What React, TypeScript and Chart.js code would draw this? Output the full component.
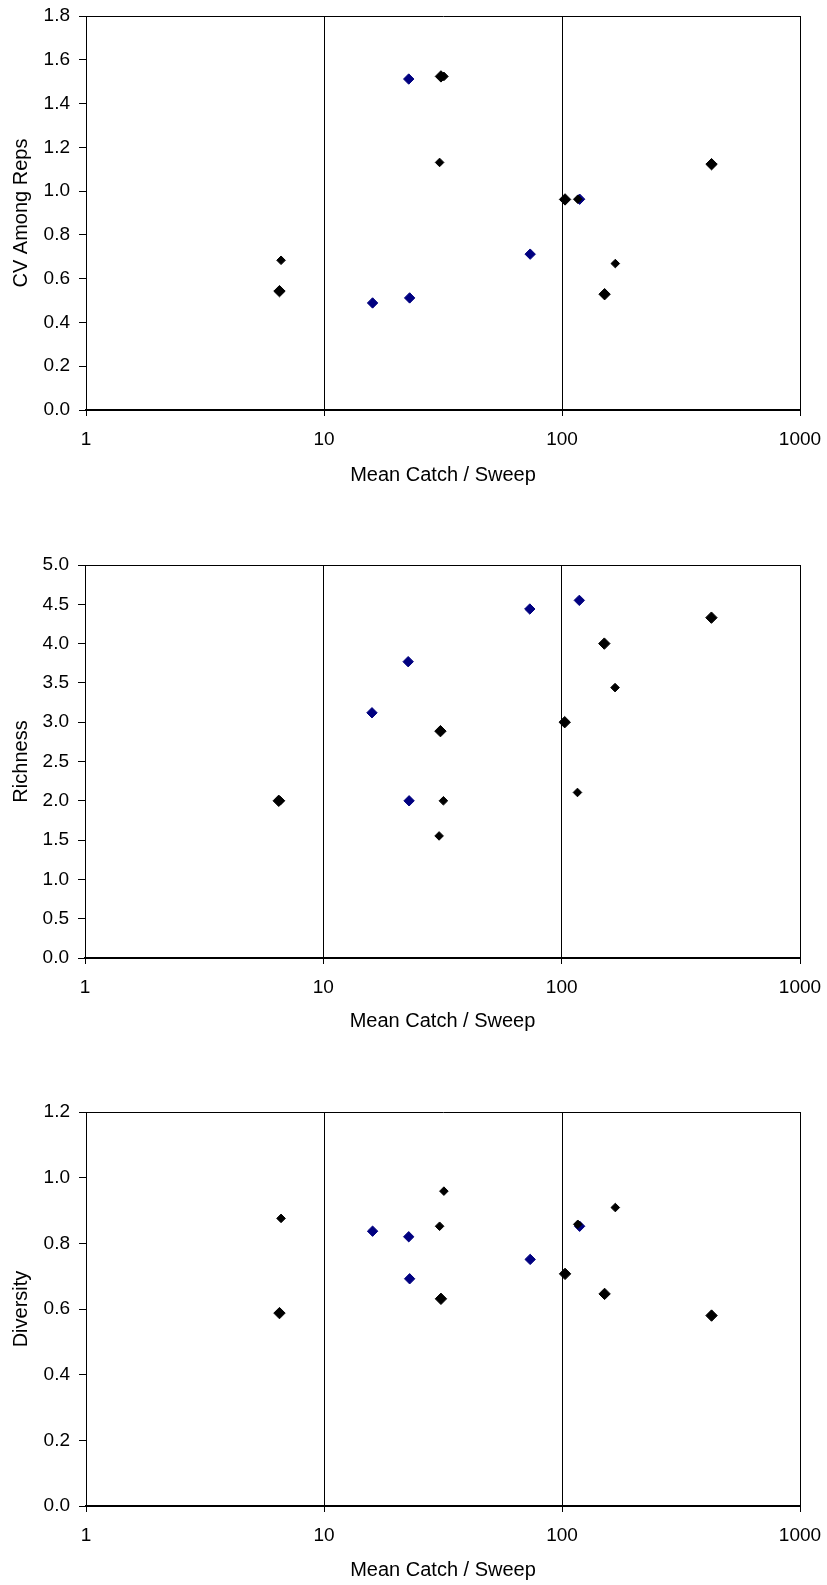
import React, { useEffect, useRef } from 'react';
import { Chart, registerables } from 'chart.js';

Chart.register(...registerables);

// ---- data ----
const xTicks = [1, 10, 100, 1000];
const xAxisTitle = 'Mean Catch / Sweep';

const blackLargeCatch = [6.5, 31.0, 103, 151, 425];
const blackSmallCatch = [6.6, 30.6, 31.9, 116.5, 167.5];
const navyCatch = [16.0, 22.7, 22.9, 73.5, 118.6];

const blackLargeCV = [0.543, 1.524, 0.962, 0.529, 1.123];
const blackSmallCV = [0.684, 1.131, 1.524, 0.963, 0.669];
const navyCV = [0.489, 1.512, 0.512, 0.712, 0.963];

const blackLargeRichness = [2.0, 2.886, 3.0, 4.0, 4.33];
const blackSmallRichness = [2.0, 1.553, 2.0, 2.106, 3.44];
const navyRichness = [3.12, 3.77, 2.0, 4.44, 4.55];

const blackLargeDiversity = [0.5875, 0.631, 0.707, 0.646, 0.58];
const blackSmallDiversity = [0.876, 0.852, 0.959, 0.858, 0.909];
const navyDiversity = [0.837, 0.82, 0.692, 0.751, 0.852];

const FONT = "'Liberation Sans', Arial, Helvetica, sans-serif";

type PanelCfg = {
  yTitle: string;
  yMax: number;
  yStep: number;
  large: number[];
  small: number[];
  navy: number[];
  top: number;
  height: number;
  padTop: number;
  plotLeft: number;
  xHeight: number;
  titlePadBottom: number;
};

const panels: PanelCfg[] = [
  {
    yTitle: 'CV Among Reps', yMax: 1.8, yStep: 0.2,
    large: blackLargeCV, small: blackSmallCV, navy: navyCV,
    top: 0, height: 500, padTop: 16, plotLeft: 86, xHeight: 90, titlePadBottom: 13,
  },
  {
    yTitle: 'Richness', yMax: 5.0, yStep: 0.5,
    large: blackLargeRichness, small: blackSmallRichness, navy: navyRichness,
    top: 530, height: 510, padTop: 35, plotLeft: 85, xHeight: 82, titlePadBottom: 7,
  },
  {
    yTitle: 'Diversity', yMax: 1.2, yStep: 0.2,
    large: blackLargeDiversity, small: blackSmallDiversity, navy: navyDiversity,
    top: 1060, height: 525, padTop: 52, plotLeft: 86, xHeight: 79, titlePadBottom: 3,
  },
];

function pts(xs: number[], ys: number[]) {
  return xs.map((x, i) => ({ x, y: ys[i] }));
}

function Panel({ cfg }: { cfg: PanelCfg }) {
  const ref = useRef<HTMLCanvasElement | null>(null);
  useEffect(() => {
    if (!ref.current) return;
    const tickFont = { family: FONT, size: 19, lineHeight: 1.2 };
    const titleFont = { family: FONT, size: 20, lineHeight: 1.2 };
    const chart = new Chart(ref.current, {
      type: 'scatter',
      data: {
        datasets: [
          {
            data: pts(blackLargeCatch, cfg.large),
            backgroundColor: '#000000', borderColor: '#000000', borderWidth: 1,
            pointStyle: 'rectRot', pointRadius: 5.7, pointHoverRadius: 5.7,
          },
          {
            data: pts(blackSmallCatch, cfg.small),
            backgroundColor: '#000000', borderColor: '#000000', borderWidth: 1,
            pointStyle: 'rectRot', pointRadius: 4.3, pointHoverRadius: 4.3,
          },
          {
            data: pts(navyCatch, cfg.navy),
            backgroundColor: '#000080', borderColor: '#000080', borderWidth: 1,
            pointStyle: 'rectRot', pointRadius: 5.2, pointHoverRadius: 5.2,
          },
        ],
      },
      options: {
        responsive: false,
        animation: false,
        devicePixelRatio: 1,
        events: [],
        layout: { padding: { left: 0, right: 27, top: cfg.padTop, bottom: 0 } },
        plugins: { legend: { display: false }, tooltip: { enabled: false } },
        scales: {
          x: {
            type: 'logarithmic',
            position: 'bottom',
            min: 1,
            max: 1000,
            afterBuildTicks: (s: any) => { s.ticks = xTicks.map((v) => ({ value: v })); },
            afterFit: (s: any) => {
              s.height = cfg.xHeight;
              s.paddingLeft = 0;
              s.paddingRight = 0;
            },
            ticks: {
              callback: (v: any) => String(v),
              font: tickFont, color: '#000000', padding: 12,
              maxRotation: 0, minRotation: 0, autoSkip: false,
            },
            grid: { color: '#000000', lineWidth: 1, tickLength: 6, tickColor: '#000000', drawOnChartArea: true },
            border: { display: true, color: '#000000', width: 2 },
            title: {
              display: true, text: xAxisTitle, font: titleFont, color: '#000000',
              padding: { top: 0, bottom: cfg.titlePadBottom },
            },
          },
          y: {
            type: 'linear',
            min: 0,
            max: cfg.yMax,
            afterFit: (s: any) => {
              s.width = cfg.plotLeft;
              s.paddingTop = 0;
              s.paddingBottom = 0;
            },
            ticks: {
              stepSize: cfg.yStep,
              callback: (v: any) => Number(v).toFixed(1),
              font: tickFont, color: '#000000', padding: 9,
            },
            grid: {
              color: (c: any) => (c.index === c.scale.ticks.length - 1 ? '#000000' : 'rgba(0,0,0,0)'),
              lineWidth: 1, tickLength: 7, tickColor: '#000000', drawOnChartArea: true,
            },
            border: { display: true, color: '#000000', width: 1 },
            title: {
              display: true, text: cfg.yTitle, font: titleFont, color: '#000000',
              padding: { top: 9, bottom: 0 },
            },
          },
        },
      } as any,
    });
    return () => chart.destroy();
  }, [cfg]);
  return (
    <canvas
      ref={ref}
      width={827}
      height={cfg.height}
      style={{ position: 'absolute', left: 0, top: cfg.top, width: 827, height: cfg.height, display: 'block' }}
    />
  );
}

export default function App() {
  return (
    <div style={{ position: 'absolute', left: 0, top: 0, width: 827, height: 1585, background: '#ffffff' }}>
      {panels.map((p, i) => (
        <Panel key={i} cfg={p} />
      ))}
    </div>
  );
}
